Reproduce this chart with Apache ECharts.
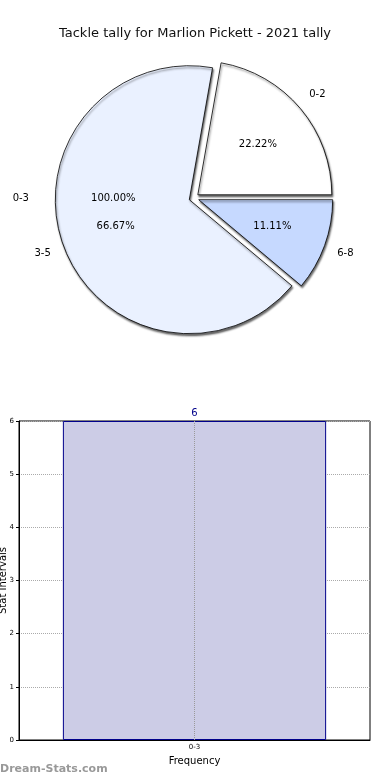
<!DOCTYPE html>
<html><head><meta charset="utf-8">
<script src="https://cdn.jsdelivr.net/npm/echarts@6/dist/echarts.min.js"></script>
<style>html,body{margin:0;padding:0;background:#fff}#c{width:390px;height:780px}</style>
</head><body><div id="c"></div>
<script>
const titleText = 'Tackle tally for Marlion Pickett - 2021 tally';
const pieNames = ['0-2', '3-5', '6-8'];
const pieValues = [2, 6, 1];
const pieColors = ['#ffffff', '#eaf1ff', '#c6d9ff'];
const totalName = '0-3';
const totalValue = 9;
const barCategories = ['0-3'];
const barValues = [6];
const yTicks = [0, 1, 2, 3, 4, 5, 6];

const F = 'DejaVu Sans';
const C = [194, 198];
const R = 134;
const sum = pieValues.reduce((a, b) => a + b, 0);
const pieData = pieNames.map((n, i) => ({name: n, value: pieValues[i], selected: true, itemStyle: {color: pieColors[i]}}));
const plain = pieNames.map((n, i) => ({name: n, value: pieValues[i]}));
const clear = {color: 'rgba(0,0,0,0)', borderWidth: 0};

const chart = echarts.init(document.getElementById('c'));
chart.setOption({
  animation: false,
  title: {text: titleText, left: 'center', top: 22, textStyle: {fontFamily: F, fontSize: 13, fontWeight: 'normal', color: '#111'}},
  graphic: [{type: 'text', left: 0, top: 764, style: {text: 'Dream-Stats.com', font: 'bold 11px ' + F, fill: '#999'}}],
  grid: {left: 19, right: 20, top: 421, bottom: 40, show: true, borderColor: '#000', borderWidth: 1, outerBoundsMode: 'none', containLabel: false},
  xAxis: {
    type: 'category', data: barCategories,
    name: 'Frequency', nameLocation: 'middle', nameGap: 16,
    nameTextStyle: {fontFamily: F, fontSize: 10, color: '#000'},
    axisLine: {lineStyle: {color: '#000'}},
    axisTick: {show: false},
    axisLabel: {fontFamily: F, fontSize: 7, color: '#000', margin: 4},
    splitLine: {show: false}
  },
  yAxis: {
    type: 'value', min: 0, max: 6, interval: 1,
    name: 'Stat Intervals', nameLocation: 'middle', nameGap: 11, nameRotate: 90, nameMoveOverlap: false,
    nameTextStyle: {fontFamily: F, fontSize: 10, color: '#000'},
    axisLine: {show: true, lineStyle: {color: '#000'}},
    axisTick: {show: true, length: 3, lineStyle: {color: '#000'}},
    axisLabel: {fontFamily: F, fontSize: 7, color: '#000', margin: 5, formatter: v => yTicks.includes(v) ? String(v) : ''},
    splitLine: {show: true, lineStyle: {type: 'dotted', color: '#aaa'}}
  },
  series: [
    {
      type: 'bar', data: barValues, barWidth: '75%',
      itemStyle: {color: '#cccce6', borderColor: '#00008b', borderWidth: 1},
      label: {show: true, position: 'top', fontFamily: F, fontSize: 10, color: '#00008b', distance: 3},
      markLine: {silent: true, symbol: 'none', label: {show: false},
        lineStyle: {type: 'dotted', color: '#999', width: 1},
        data: [{xAxis: barCategories[0]}]}
    },
    {
      type: 'pie', center: C, radius: [0, R], startAngle: 0, clockwise: false,
      selectedMode: 'multiple', selectedOffset: 5, silent: true, z: 2,
      data: pieData,
      itemStyle: {borderColor: '#000', borderWidth: 0.8, shadowBlur: 2, shadowOffsetX: 1, shadowOffsetY: 2, shadowColor: 'rgba(0,0,0,0.6)'},
      label: {show: false}, labelLine: {show: false}
    },
    {
      type: 'pie', center: C, radius: [R * 0.5, R * 0.7], startAngle: 0, clockwise: false, silent: true, z: 5,
      data: plain, itemStyle: clear,
      label: {show: true, position: 'inside', fontFamily: F, fontSize: 10, color: '#000',
        formatter: p => (p.value / sum * 100).toFixed(2) + '%'},
      labelLine: {show: false}
    },
    {
      type: 'pie', center: C, radius: [R * 1.1, R * 1.26], startAngle: 0, clockwise: false, silent: true, z: 5,
      data: plain, itemStyle: clear,
      label: {show: true, position: 'inside', fontFamily: F, fontSize: 10, color: '#000', formatter: '{b}'},
      labelLine: {show: false}
    },
    {
      type: 'pie', center: C, radius: [R * 0.5, R * 0.66], startAngle: 0, silent: true, z: 5,
      data: [{name: totalName, value: totalValue}], itemStyle: clear,
      label: {show: true, position: 'inside', fontFamily: F, fontSize: 10, color: '#000', formatter: '100.00%'},
      labelLine: {show: false}
    },
    {
      type: 'pie', center: C, radius: [R * 1.16, R * 1.38], startAngle: 0, silent: true, z: 5,
      data: [{name: totalName, value: totalValue}], itemStyle: clear,
      label: {show: true, position: 'inside', fontFamily: F, fontSize: 10, color: '#000', formatter: '{b}'},
      labelLine: {show: false}
    }
  ]
});
</script></body></html>
